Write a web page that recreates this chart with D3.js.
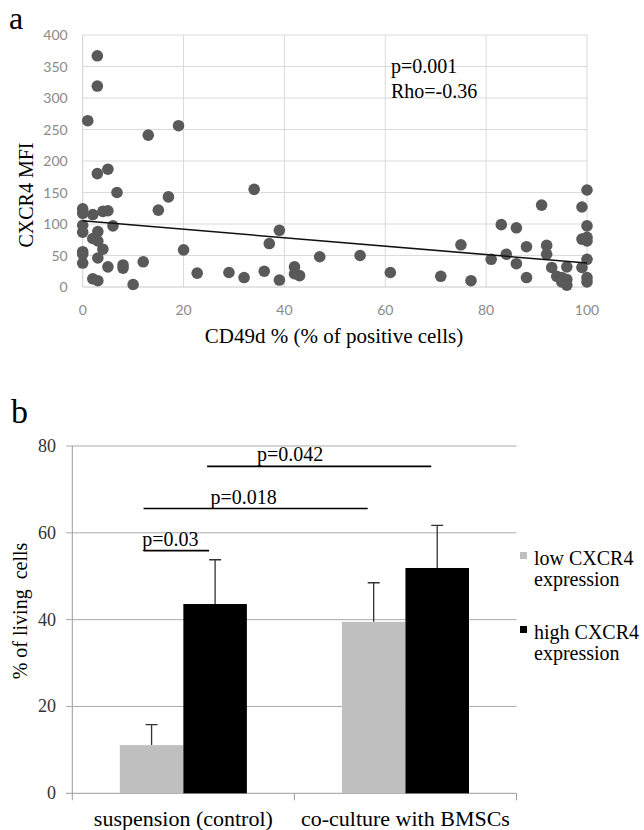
<!DOCTYPE html>
<html>
<head>
<meta charset="utf-8">
<script src="https://cdn.jsdelivr.net/npm/d3@7"></script>
<style>
  body { margin: 0; background: #fff; }
  text { font-family: "Liberation Serif", "Times New Roman", serif; }
  .tick-a { font-family: Lato, "Open Sans", sans-serif; }
</style>
</head>
<body>
<div id="chart"></div>
<script>
//
// Panel a data : CD49d % vs CXCR4 MFI
//
const cd49d = [2.9, 2.9, 1, 13, 19, 2.9, 5, 6.8, 34, 17, 15, 0, 0, 2, 4, 5, 0, 0, 6, 3,
  2, 3, 4, 0, 0, 3, 0, 5, 8, 8, 12, 20, 2, 3, 10, 22.7, 29, 32, 36, 37, 39, 39, 42, 42,
  43, 47, 55, 61, 71, 77, 75, 81, 83, 84, 86, 86, 88, 88, 91, 92, 92, 93, 94, 95, 96, 96,
  95, 96, 99, 100, 100, 99, 100, 100, 100, 99, 100, 100]
const cxcr4 = [367, 319, 264, 241, 256, 180, 187, 150, 155, 143, 122, 124, 117, 115, 120, 121, 98, 87, 97, 88,
  77, 73, 60, 56, 52, 46, 38, 32, 35, 30, 40, 59, 13, 10, 4, 22, 23, 15, 25, 69, 90, 11, 32, 21,
  18, 48, 50, 23, 17, 10, 67, 44, 99, 52, 94, 37, 64, 15, 130, 66, 52, 31, 17, 15, 12, 3,
  8, 32, 127, 154, 97, 76, 79, 73, 44, 31, 15, 8]
const trendX = [0, 100]
const trendY = [105, 38]
const xTicksA = [0, 20, 40, 60, 80, 100]
const yTicksA = [0, 50, 100, 150, 200, 250, 300, 350, 400]

//
// Panel b data : % of living cells
//
const conditions = ["suspension (control)", "co-culture with BMSCs"]
const groups = ["low CXCR4 expression", "high CXCR4 expression"]
const lowValues = [11.1, 39.5]
const lowErrors = [4.7, 9.0]
const highValues = [43.6, 51.9]
const highErrors = [10.2, 9.8]
const yTicksB = [0, 20, 40, 60, 80]
// comparisons: [condition, group] -> [condition, group], label, height
const comparisons = [
  { from: [0, 0], to: [0, 1], label: "p=0.03", level: 55.9 },
  { from: [0, 0], to: [1, 0], label: "p=0.018", level: 65.6 },
  { from: [0, 1], to: [1, 1], label: "p=0.042", level: 75.3 }
]

const svg = d3.select("#chart")
  .append("svg")
    .attr("width", 644)
    .attr("height", 830)

//
//    Panel a
//
const xa = d3.scaleLinear().domain([0, 100]).range([82.7, 587])
const ya = d3.scaleLinear().domain([0, 400]).range([287, 35])

const ga = svg.append("g")

// grid
ga.selectAll(".vgrid")
  .data(xTicksA.slice(1))
  .enter()
  .append("line")
    .attr("x1", d => xa(d)).attr("x2", d => xa(d))
    .attr("y1", ya(400)).attr("y2", ya(0))
    .attr("stroke", "#dadada")
ga.selectAll(".hgrid")
  .data(yTicksA.slice(1))
  .enter()
  .append("line")
    .attr("x1", xa(0)).attr("x2", xa(100))
    .attr("y1", d => ya(d)).attr("y2", d => ya(d))
    .attr("stroke", "#dadada")
// axes lines
ga.append("line")
  .attr("x1", xa(0)).attr("x2", xa(100))
  .attr("y1", ya(0)).attr("y2", ya(0))
  .attr("stroke", "#c8c8c8")
ga.append("line")
  .attr("x1", xa(0)).attr("x2", xa(0))
  .attr("y1", ya(0)).attr("y2", ya(400))
  .attr("stroke", "#d0d0d0")

// tick labels
ga.selectAll(".ylab")
  .data(yTicksA)
  .enter()
  .append("text")
    .attr("class", "tick-a")
    .attr("x", xa(0) - 15)
    .attr("y", d => ya(d) + 5)
    .attr("text-anchor", "end")
    .attr("font-size", 14)
    .attr("fill", "#8a8a8a")
    .text(d => d)
ga.selectAll(".xlab")
  .data(xTicksA)
  .enter()
  .append("text")
    .attr("class", "tick-a")
    .attr("x", d => xa(d))
    .attr("y", 315)
    .attr("text-anchor", "middle")
    .attr("font-size", 14)
    .attr("fill", "#8a8a8a")
    .text(d => d)

// points
ga.selectAll(".dot")
  .data(d3.range(cd49d.length))
  .enter()
  .append("circle")
    .attr("cx", i => xa(cd49d[i]))
    .attr("cy", i => ya(cxcr4[i]))
    .attr("r", 5.8)
    .attr("fill", "#595959")

// trend line
ga.append("line")
  .attr("x1", xa(trendX[0])).attr("y1", ya(trendY[0]))
  .attr("x2", xa(trendX[1])).attr("y2", ya(trendY[1]))
  .attr("stroke", "#111")
  .attr("stroke-width", 1.5)

// annotation
ga.append("text").attr("x", 391).attr("y", 73).attr("font-size", 20).text("p=0.001")
ga.append("text").attr("x", 391).attr("y", 98).attr("font-size", 20).text("Rho=-0.36")

// titles
ga.append("text")
  .attr("transform", "translate(33,195)rotate(-90)")
  .attr("text-anchor", "middle")
  .attr("font-size", 20)
  .text("CXCR4 MFI")
ga.append("text")
  .attr("x", 334).attr("y", 343)
  .attr("text-anchor", "middle")
  .attr("font-size", 21)
  .text("CD49d % (% of positive cells)")
svg.append("text").attr("x", 9).attr("y", 29).attr("font-size", 32).text("a")

//
//    Panel b
//
const x0 = d3.scaleBand().domain(conditions).range([72.3, 516.5])
const x1 = d3.scaleBand().domain(groups).range([0, x0.bandwidth()]).paddingOuter(0.748)
const yb = d3.scaleLinear().domain([0, 80]).range([793.3, 446])
const gb = svg.append("g")

const barCenter = (c, g) => x0(conditions[c]) + x1(groups[g]) + x1.bandwidth() / 2

// grid + ticks
gb.selectAll(".hgridb")
  .data(yTicksB.slice(1))
  .enter()
  .append("line")
    .attr("x1", 66).attr("x2", 516.5)
    .attr("y1", d => yb(d)).attr("y2", d => yb(d))
    .attr("stroke", "#ababab")
gb.append("line")
  .attr("x1", 66).attr("x2", 516.5)
  .attr("y1", yb(0)).attr("y2", yb(0))
  .attr("stroke", "#9a9a9a")
gb.append("line")
  .attr("x1", 72.3).attr("x2", 72.3)
  .attr("y1", yb(0)).attr("y2", yb(80))
  .attr("stroke", "#9a9a9a")
gb.selectAll(".xtick")
  .data([72.3, 294.4, 516.5])
  .enter()
  .append("line")
    .attr("x1", d => d).attr("x2", d => d)
    .attr("y1", yb(0)).attr("y2", yb(0) + 7)
    .attr("stroke", "#9a9a9a")

gb.selectAll(".ylabb")
  .data(yTicksB)
  .enter()
  .append("text")
    .attr("x", 56)
    .attr("y", d => yb(d) + 6)
    .attr("text-anchor", "end")
    .attr("font-size", 18)
    .attr("fill", "#333")
    .text(d => d)

// bars
const series = [
  { name: groups[0], values: lowValues, errors: lowErrors, color: "#bfbfbf" },
  { name: groups[1], values: highValues, errors: highErrors, color: "#000000" }
]
series.forEach(function(s, gi) {
  gb.selectAll(".bar" + gi)
    .data(conditions)
    .enter()
    .append("rect")
      .attr("x", d => x0(d) + x1(s.name))
      .attr("y", (d, i) => yb(s.values[i]))
      .attr("width", x1.bandwidth())
      .attr("height", (d, i) => yb(0) - yb(s.values[i]))
      .attr("fill", s.color)
  // error bars
  gb.selectAll(".err" + gi)
    .data(conditions)
    .enter()
    .append("path")
      .attr("d", (d, i) => {
        const cx = barCenter(i, gi)
        const top = yb(s.values[i] + s.errors[i])
        return "M" + cx + "," + yb(s.values[i]) + "V" + top + "M" + (cx - 6) + "," + top + "H" + (cx + 6)
      })
      .attr("stroke", "#333")
      .attr("stroke-width", 1.3)
      .attr("fill", "none")
})

// significance lines
const labelShift = [-6, -12, -29]
comparisons.forEach(function(c, i) {
  const xa1 = barCenter(c.from[0], c.from[1]) - 8
  const xa2 = barCenter(c.to[0], c.to[1]) - 6
  gb.append("line")
    .attr("x1", xa1).attr("x2", xa2)
    .attr("y1", yb(c.level)).attr("y2", yb(c.level))
    .attr("stroke", "#000")
    .attr("stroke-width", 1.6)
  gb.append("text")
    .attr("x", (xa1 + xa2) / 2 + labelShift[i])
    .attr("y", yb(c.level) - 5)
    .attr("text-anchor", "middle")
    .attr("font-size", 20)
    .text(c.label)
})

// category labels
gb.selectAll(".cat")
  .data(conditions)
  .enter()
  .append("text")
    .attr("x", d => x0(d) + x0.bandwidth() / 2)
    .attr("y", 826)
    .attr("text-anchor", "middle")
    .attr("font-size", 22)
    .text(d => d)

// y title
gb.append("text")
  .attr("transform", "translate(27,611)rotate(-90)")
  .attr("text-anchor", "middle")
  .attr("font-size", 20)
  .attr("xml:space", "preserve")
  .text("% of living  cells")

// legend
const legendY = [556, 630]
series.forEach(function(s, i) {
  const words = s.name.split(" ")
  gb.append("rect")
    .attr("x", 520).attr("y", legendY[i] - 4)
    .attr("width", 7).attr("height", 7)
    .attr("fill", s.color)
  const t = gb.append("text").attr("x", 534).attr("y", legendY[i] + 9).attr("font-size", 20)
  t.append("tspan").text(words[0] + " " + words[1])
  t.append("tspan").attr("x", 534).attr("dy", 21).text(words[2])
})

svg.append("text").attr("x", 11).attr("y", 423).attr("font-size", 34).text("b")
</script>
</body>
</html>
